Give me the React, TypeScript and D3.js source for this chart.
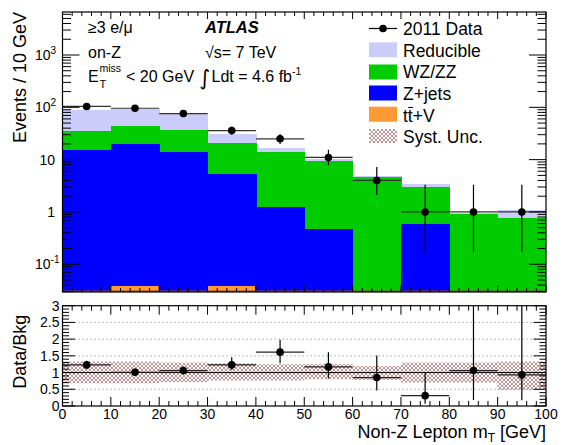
import React from 'react';
import * as d3 from 'd3';

// ---------- data ----------
const binLo = [0, 10, 20, 30, 40, 50, 60, 70, 80, 90];
const binHi = [10, 20, 30, 40, 50, 60, 70, 80, 90, 100];
const ttV = [0, 0.039, 0, 0.039, 0, 0, 0, 0, 0, 0];
const zJets = [15, 20, 13.8, 5.2, 1.25, 0.47, 0, 0.6, 0, 0];
const wzZZ = [20.8, 23.3, 23.2, 15.6, 12.75, 8.83, 4.58, 2.46, 0.93, 0.77];
const reducible = [53.2, 49.7, 40, 10.2, 2.7, 1.0, 0.36, 0.39, 0.04, 0.31];
const dataVals = [104, 96, 76, 36, 25, 11, 4, 1, 1, 1];
const dataErrLo = [10, 9.8, 8.7, 6, 5, 3.2, 1.9, 0.83, 0.83, 0.83];
const dataErrHi = [11, 10.8, 9.7, 7, 6, 4.5, 3.2, 2.3, 2.3, 2.3];
const ratioVals = [1.23, 1.01, 1.06, 1.23, 1.61, 1.17, 0.85, 0.31, 1.06, 0.93];
const ratioLo = [1.11, 0.9, 0.94, 1.08, 1.28, 0.82, 0.46, 0.07, 0.18, 0.17];
const ratioHi = [1.35, 1.12, 1.18, 1.46, 1.98, 1.61, 1.51, 1.01, 3.5, 3.5];
const systLo = [0.68, 0.68, 0.71, 0.76, 0.76, 0.8, 0.78, 0.7, 0.7, 0.48];
const systHi = [1.33, 1.33, 1.3, 1.28, 1.25, 1.26, 1.2, 1.3, 1.3, 1.33];
const xTickLabels = [0, 10, 20, 30, 40, 50, 60, 70, 80, 90, 100];
const logTickLabels = [
  { v: 0.1, base: '10', exp: '-1' },
  { v: 1, base: '1', exp: '' },
  { v: 10, base: '10', exp: '' },
  { v: 100, base: '10', exp: '2' },
  { v: 1000, base: '10', exp: '3' },
];
const ratioTickLabels = ['0', '0.5', '1', '1.5', '2', '2.5', '3'];
const ratioGrid = [0.5, 1.5, 2, 2.5];
const seriesKeys = ['ttV', 'zJets', 'wzZZ', 'reducible'];
const seriesColors: Record<string, string> = {
  ttV: '#ff9933',
  zJets: '#0000ff',
  wzZZ: '#00cc00',
  reducible: '#ccccfb',
};

// ---------- layout ----------
const W = 564;
const H = 445;
const L = 62.5;
const R = 546;
const topT = 12;
const topB = 292;
const ratT = 305.7;
const ratB = 406;
const FONT = "'Liberation Sans', Arial, Helvetica, sans-serif";

const x = d3.scaleLinear().domain([0, 100]).range([L, R]);
const y = d3.scaleLog().domain([0.0295, 6640]).range([topB, topT]);
const yr = d3.scaleLinear().domain([0, 3]).range([ratB, ratT]);

const rows = binLo.map((b, i) => ({
  ttV: ttV[i],
  zJets: zJets[i],
  wzZZ: wzZZ[i],
  reducible: reducible[i],
}));
const stacked = d3.stack<any>().keys(seriesKeys)(rows);

const yc = (v: number) => y(Math.max(v, 0.0295));

export default function App() {
  const xMinor = x.ticks(50);
  const xMajor = x.ticks(10);
  const logAll = y.ticks();
  const isDecade = (v: number) => Math.abs(Math.log10(v) - Math.round(Math.log10(v))) < 1e-6;
  const rMinor = yr.ticks(30);
  const rMajor = yr.ticks(6);

  const drawOrder = [...stacked].reverse();

  return (
    <svg
      width={W}
      height={H}
      style={{ position: 'absolute', left: 0, top: 0, background: '#fff' }}
      fontFamily={FONT}
    >
      <defs>
        <pattern id="hatch" width="4" height="4" patternUnits="userSpaceOnUse">
          <path d="M0,0 L4,4 M4,0 L0,4 M-1,3 L1,5 M3,-1 L5,1 M-1,1 L1,-1 M3,5 L5,3" stroke="#b47a7a" strokeWidth="0.8" />
        </pattern>
        <clipPath id="clipTop">
          <rect x={L} y={topT} width={R - L} height={topB - topT} />
        </clipPath>
        <clipPath id="clipRat">
          <rect x={L} y={ratT} width={R - L} height={ratB - ratT} />
        </clipPath>
      </defs>

      {/* ---------------- top panel ---------------- */}
      <g clipPath="url(#clipTop)">
        {drawOrder.map((layer) =>
          layer.map((d: any, i: number) => {
            const lo = d[0];
            const hi = d[1];
            if (hi - lo <= 0) return null;
            const key = layer.key as string;
            const isT = key === 'ttV';
            return (
              <rect
                key={key + i}
                x={x(binLo[i])}
                width={x(binHi[i]) - x(binLo[i]) + (isT ? 0 : 0.6)}
                y={yc(hi)}
                height={yc(lo) - yc(hi)}
                fill={seriesColors[key]}
                stroke={isT ? '#222' : 'none'}
                strokeWidth={isT ? 1 : 0}
                shapeRendering="crispEdges"
              />
            );
          })
        )}
        <line x1={L} x2={R} y1={topB - 0.8} y2={topB - 0.8} stroke="#8b4a1c" strokeWidth={1.6} />
        {dataVals.map((v, i) => {
          const cx = x((binLo[i] + binHi[i]) / 2);
          return (
            <g key={'d' + i} stroke="#000" strokeWidth={1.2}>
              <line x1={x(binLo[i])} x2={x(binHi[i])} y1={y(v)} y2={y(v)} stroke="#333" />
              <line x1={cx} x2={cx} y1={y(v - dataErrLo[i])} y2={y(v + dataErrHi[i])} />
              <circle cx={cx} cy={y(v)} r={3.8} fill="#000" stroke="none" />
            </g>
          );
        })}
      </g>

      <g stroke="#000" strokeWidth={1}>
        {xMinor.map((t) => {
          const len = xMajor.includes(t) ? 7 : 4;
          return (
            <g key={'xt' + t}>
              <line x1={x(t)} x2={x(t)} y1={topB} y2={topB - len} />
              <line x1={x(t)} x2={x(t)} y1={topT} y2={topT + len} />
            </g>
          );
        })}
        {logAll.map((t) => {
          const len = isDecade(t) ? 17 : 8.5;
          if (y(t) < topT - 0.5 || y(t) > topB + 0.5) return null;
          return (
            <g key={'yt' + t}>
              <line x1={L} x2={L + len} y1={y(t)} y2={y(t)} />
              <line x1={R} x2={R - len} y1={y(t)} y2={y(t)} />
            </g>
          );
        })}
        <rect x={L} y={topT} width={R - L} height={topB - topT} fill="none" strokeWidth={1.2} />
      </g>

      <g fontSize={14} fill="#000">
        {logTickLabels.map((t) =>
          t.exp ? (
            <text key={'yl' + t.v} x={35} y={y(t.v) + 5}>
              {t.base}
              <tspan fontSize={10} dy={-6}>{t.exp}</tspan>
            </text>
          ) : (
            <text key={'yl' + t.v} x={55} y={y(t.v) + 5} textAnchor="end">
              {t.base}
            </text>
          )
        )}
      </g>
      <text transform={`translate(26,${topT}) rotate(-90)`} textAnchor="end" fontSize={18}>
        Events / 10 GeV
      </text>

      <g fontSize={16} fill="#000">
        <text x={88} y={33}>≥3 e/μ</text>
        <text x={88} y={58}>on-Z</text>
        <text x={88} y={82}>E</text>
        <text x={99.5} y={72} fontSize={10.5}>miss</text>
        <text x={99.5} y={88} fontSize={11}>T</text>
        <text x={126} y={82}>&lt; 20 GeV</text>
        <text x={205} y={33} fontWeight="bold" fontStyle="italic" fontSize={16.5}>ATLAS</text>
        <text x={205} y={58}>√s= 7 TeV</text>
        <text x={199.5} y={85} fontSize={21} fontFamily="'DejaVu Sans', sans-serif">∫</text>
        <text x={211.5} y={82}>
          Ldt = 4.6 fb
          <tspan fontSize={10.5} dy={-7}>-1</tspan>
        </text>
      </g>

      <g fontSize={17.5} fill="#000">
        <line x1={369} x2={397} y1={28.5} y2={28.5} stroke="#000" strokeWidth={1.2} />
        <circle cx={383} cy={28.5} r={3.8} fill="#000" />
        <text x={403} y={35}>2011 Data</text>
        <rect x={369} y={42.3} width={28} height={15} fill={seriesColors.reducible} />
        <text x={403} y={56.5}>Reducible</text>
        <rect x={369} y={64.5} width={28} height={15} fill={seriesColors.wzZZ} />
        <text x={403} y={78}>WZ/ZZ</text>
        <rect x={369} y={85.5} width={28} height={15} fill={seriesColors.zJets} />
        <text x={403} y={99.5}>Z+jets</text>
        <rect x={369} y={106.7} width={28} height={15} fill={seriesColors.ttV} />
        <text x={403} y={121.5}>tt+V</text>
        <line x1={408.2} x2={413} y1={107.5} y2={107.5} stroke="#000" strokeWidth={1} />
        <rect x={369} y={129} width={28} height={14} fill="url(#hatch)" />
        <text x={403} y={142.5}>Syst. Unc.</text>
      </g>

      {/* ---------------- ratio panel ---------------- */}
      <g clipPath="url(#clipRat)">
        {ratioGrid.map((g) => (
          <line key={'g' + g} x1={L} x2={R} y1={yr(g)} y2={yr(g)} stroke="#aaa" strokeDasharray="1.5,2.5" strokeWidth={1} />
        ))}
        {systLo.map((lo, i) => (
          <rect
            key={'s' + i}
            x={x(binLo[i])}
            width={x(binHi[i]) - x(binLo[i])}
            y={yr(systHi[i])}
            height={yr(lo) - yr(systHi[i])}
            fill="url(#hatch)"
          />
        ))}
        <line x1={L} x2={R} y1={yr(1)} y2={yr(1)} stroke="#000" strokeWidth={1} />
        {ratioVals.map((v, i) => {
          const cx = x((binLo[i] + binHi[i]) / 2);
          return (
            <g key={'r' + i} stroke="#000" strokeWidth={1.2}>
              <line x1={x(binLo[i])} x2={x(binHi[i])} y1={yr(v)} y2={yr(v)} stroke="#222" />
              <line x1={cx} x2={cx} y1={yr(ratioLo[i])} y2={yr(ratioHi[i])} />
              <circle cx={cx} cy={yr(v)} r={3.8} fill="#000" stroke="none" />
            </g>
          );
        })}
      </g>

      <g stroke="#000" strokeWidth={1}>
        {xMinor.map((t) => {
          const len = xMajor.includes(t) ? 9 : 5;
          return (
            <g key={'rxt' + t}>
              <line x1={x(t)} x2={x(t)} y1={ratB} y2={ratB - len} />
              <line x1={x(t)} x2={x(t)} y1={ratT} y2={ratT + len} />
            </g>
          );
        })}
        {rMinor.map((t) => {
          const len = rMajor.some((m) => Math.abs(m - t) < 1e-6) ? 12.5 : 6.5;
          return (
            <g key={'ryt' + t}>
              <line x1={L} x2={L + len} y1={yr(t)} y2={yr(t)} />
              <line x1={R} x2={R - len} y1={yr(t)} y2={yr(t)} />
            </g>
          );
        })}
        <rect x={L} y={ratT} width={R - L} height={ratB - ratT} fill="none" strokeWidth={1.2} />
      </g>

      <g fontSize={14} fill="#000">
        {rMajor.map((t, i) => (
          <text key={'ryl' + t} x={59.5} y={yr(t) + 5} textAnchor="end">
            {ratioTickLabels[i]}
          </text>
        ))}
        {xTickLabels.map((t) => (
          <text key={'xl' + t} x={x(t)} y={418.5} textAnchor="middle">
            {t}
          </text>
        ))}
      </g>
      <text transform={`translate(26,${(ratT + ratB) / 2 - 4}) rotate(-90)`} textAnchor="middle" fontSize={18}>
        Data/Bkg
      </text>
      <text x={R} y={438} textAnchor="end" fontSize={18}>
        Non-Z Lepton m
        <tspan fontSize={12} dy={4}>T</tspan>
        <tspan dy={-4}> [GeV]</tspan>
      </text>
    </svg>
  );
}
